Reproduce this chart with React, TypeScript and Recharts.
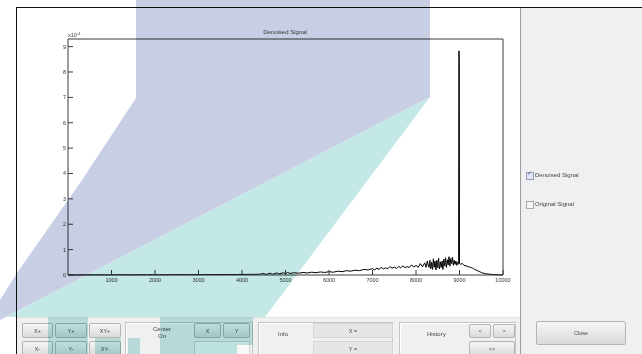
import { LineChart, Line, XAxis, YAxis } from "recharts";

// ─── Data (signal amplitude in units of 1e-4) ────────────────────────────────

const SIGNAL_X = [
  0, 300, 600, 900, 1200, 1500, 1800, 2100, 2400, 2700, 3000, 3300, 3600, 3900,
  4200, 4400, 4500, 4550, 4650, 4700, 4800, 4850, 4950, 5000, 5050, 5100, 5200,
  5300, 5400, 5500, 5600, 5700, 5800, 5900, 6000, 6100, 6200, 6300, 6400, 6500,
  6600, 6700, 6800, 6900, 7000, 7050, 7100, 7150, 7200, 7250, 7300, 7350, 7400,
  7450, 7500, 7550, 7600, 7650, 7700, 7750, 7800, 7850, 7900, 7950, 8000, 8050,
  8100, 8150, 8200, 8230, 8260, 8290,
  8300, 8310, 8320, 8330, 8340, 8350, 8360, 8370, 8380, 8390, 8400, 8410, 8420,
  8430, 8440, 8450, 8460, 8470, 8480, 8490, 8500, 8510, 8520, 8530, 8540, 8550,
  8560, 8570, 8580, 8590, 8600, 8610, 8620, 8630, 8640, 8650, 8660, 8670, 8680,
  8690, 8700, 8710, 8720, 8730, 8740, 8750, 8760, 8770, 8780, 8790, 8800, 8810,
  8820, 8830, 8840, 8850, 8860, 8870, 8880, 8890, 8900, 8910, 8920, 8930, 8940,
  8950, 8960, 8970, 8980,
  8986, 8990, 8994, 9000, 9030, 9060, 9100, 9150, 9200, 9250, 9300, 9350,
  9400, 9450, 9500, 9550, 9600, 9700, 9800, 9900, 10000,
];

const SIGNAL_Y = [
  0, 0.005, 0.01, 0.005, 0.01, 0.008, 0.012, 0.01, 0.015, 0.012, 0.015, 0.018,
  0.02, 0.02, 0.025, 0.03, 0.06, 0.02, 0.07, 0.03, 0.08, 0.04, 0.09, 0.05, 0.1,
  0.06, 0.09, 0.07, 0.1, 0.08, 0.11, 0.09, 0.12, 0.1, 0.13, 0.11, 0.15, 0.13,
  0.17, 0.15, 0.19, 0.17, 0.22, 0.2, 0.25, 0.2, 0.27, 0.22, 0.3, 0.24, 0.28,
  0.25, 0.33, 0.27, 0.31, 0.26, 0.34, 0.28, 0.36, 0.29, 0.33, 0.3, 0.4, 0.31,
  0.38, 0.3, 0.45, 0.32, 0.48, 0.3, 0.55, 0.33,
  0.3, 0.45, 0.58, 0.35, 0.25, 0.4, 0.5, 0.3, 0.22, 0.45, 0.64, 0.42, 0.3,
  0.48, 0.55, 0.3, 0.2, 0.42, 0.58, 0.36, 0.28, 0.5, 0.66, 0.4, 0.24, 0.38,
  0.52, 0.4, 0.3, 0.45, 0.55, 0.35, 0.22, 0.5, 0.63, 0.45, 0.35, 0.55, 0.68,
  0.42, 0.3, 0.48, 0.6, 0.45, 0.4, 0.62, 0.72, 0.5, 0.35, 0.5, 0.65, 0.52,
  0.45, 0.6, 0.7, 0.5, 0.38, 0.48, 0.58, 0.45, 0.42, 0.52, 0.55, 0.42, 0.38,
  0.5, 0.48, 0.42, 0.45,
  8.83, 8.83, 8.6, 0.45, 0.42, 0.46, 0.38, 0.36, 0.33, 0.3, 0.27, 0.22,
  0.18, 0.14, 0.1, 0.07, 0.05, 0.03, 0.015, 0.008, 0.005,
];

const X_TICKS = [1000, 2000, 3000, 4000, 5000, 6000, 7000, 8000, 9000, 10000];
const Y_TICKS = [0, 1, 2, 3, 4, 5, 6, 7, 8, 9];

const data = SIGNAL_X.map((x, i) => ({ x, y: SIGNAL_Y[i] }));

// ─── Styles ──────────────────────────────────────────────────────────────────

const FONT = "'Liberation Sans', Arial, sans-serif";
const AXIS_COLOR = "#3a3a3a";
const TICK_STYLE = { fontSize: 5.5, fill: "#333", fontFamily: FONT };

const btn: React.CSSProperties = {
  position: "absolute",
  background: "linear-gradient(#f6f6f6, #dadada)",
  border: "1px solid #b4b4b4",
  borderRadius: 2,
  boxSizing: "border-box",
  display: "flex",
  alignItems: "center",
  justifyContent: "center",
  fontSize: 5.5,
  color: "#444",
  fontFamily: FONT,
};

const group: React.CSSProperties = {
  position: "absolute",
  border: "1px solid #c4c4c4",
  boxShadow: "inset 1px 1px 0 #fff",
  boxSizing: "border-box",
  background: "#f0f0f0",
};

const label: React.CSSProperties = {
  position: "absolute",
  fontSize: 6,
  color: "#444",
  fontFamily: FONT,
  whiteSpace: "nowrap",
  lineHeight: "7px",
};

function Btn({ x, y, w, h, text }: { x: number; y: number; w: number; h: number; text: string }) {
  return <div style={{ ...btn, left: x, top: y, width: w, height: h }}>{text}</div>;
}

const noTick = () => <g />;

// ─── Component ───────────────────────────────────────────────────────────────

export default function App() {
  return (
    <div
      style={{
        position: "fixed",
        left: 0,
        top: 0,
        width: 642,
        height: 354,
        background: "#fff",
        overflow: "hidden",
      }}
    >
      {/* plot */}
      <div style={{ position: "absolute", left: 0, top: 0 }}>
        <LineChart width={520} height={317} data={data} margin={{ top: 29, right: 7, bottom: 22, left: 48 }}>
          <XAxis
            xAxisId="b"
            dataKey="x"
            type="number"
            domain={[0, 10000]}
            ticks={X_TICKS}
            height={20}
            stroke={AXIS_COLOR}
            tickSize={-5}
            tickMargin={8}
            tick={TICK_STYLE}
          />
          <XAxis
            xAxisId="t"
            orientation="top"
            type="number"
            domain={[0, 10000]}
            ticks={X_TICKS}
            height={10}
            stroke={AXIS_COLOR}
            tickSize={-5}
            tick={noTick}
          />
          <YAxis
            yAxisId="l"
            type="number"
            domain={[0, 9.3]}
            ticks={Y_TICKS}
            width={20}
            stroke={AXIS_COLOR}
            tickSize={-5}
            tickMargin={7}
            tick={TICK_STYLE}
          />
          <YAxis
            yAxisId="r"
            orientation="right"
            type="number"
            domain={[0, 9.3]}
            ticks={Y_TICKS}
            width={10}
            stroke={AXIS_COLOR}
            tickSize={-5}
            tick={noTick}
          />
          <Line
            xAxisId="b"
            yAxisId="l"
            dataKey="y"
            type="linear"
            stroke="#000"
            strokeWidth={1}
            dot={false}
            isAnimationActive={false}
          />
        </LineChart>
      </div>

      {/* title + exponent */}
      <div style={{ ...label, left: 255, top: 29, width: 60, textAlign: "center" }}>Denoised Signal</div>
      <div style={{ ...label, left: 68, top: 30, fontSize: 5.5 }}>
        x10<sup style={{ fontSize: 4, verticalAlign: "2px" }}>-4</sup>
      </div>

      {/* right panel */}
      <div
        style={{
          position: "absolute",
          left: 520,
          top: 7,
          width: 122,
          height: 347,
          background: "#f0f0f0",
          borderLeft: "1px solid #9c9c9c",
        }}
      />
      <div style={{ position: "absolute", left: 526, top: 172, width: 6, height: 6, border: "1px solid #9aa0b8", background: "#dfe3f2" }} />
      <div style={{ ...label, left: 527, top: 170, fontSize: 6, color: "#4455aa" }}>✓</div>
      <div style={{ ...label, left: 535, top: 172 }}>Denoised Signal</div>
      <div style={{ position: "absolute", left: 526, top: 201, width: 6, height: 6, border: "1px solid #a8a8a8", background: "#f6f6f6" }} />
      <div style={{ ...label, left: 535, top: 201 }}>Original Signal</div>
      <Btn x={536} y={321} w={90} h={24} text="Close" />

      {/* bottom panel */}
      <div
        style={{
          position: "absolute",
          left: 17,
          top: 317,
          width: 503,
          height: 37,
          background: "#f0f0f0",
          borderTop: "1px solid #e2e2e2",
        }}
      />
      <Btn x={22} y={323} w={31} h={15} text="X+" />
      <Btn x={55} y={323} w={32} h={15} text="Y+" />
      <Btn x={89} y={323} w={32} h={15} text="XY+" />
      <Btn x={22} y={341} w={31} h={15} text="X-" />
      <Btn x={55} y={341} w={32} h={15} text="Y-" />
      <Btn x={89} y={341} w={32} h={15} text="XY-" />

      <div style={{ ...group, left: 125, top: 322, width: 128, height: 40 }} />
      <div style={{ ...label, left: 145, top: 326, width: 34, textAlign: "center" }}>
        Center
        <br />
        On
      </div>
      <Btn x={194} y={323} w={27} h={15} text="X" />
      <Btn x={223} y={323} w={27} h={15} text="Y" />
      <div style={{ position: "absolute", left: 194, top: 341, width: 56, height: 15, background: "#f8f8f8", border: "1px solid #d0d0d0", boxSizing: "border-box" }} />

      <div style={{ ...group, left: 258, top: 322, width: 135, height: 40 }} />
      <div style={{ ...label, left: 278, top: 331 }}>Info</div>
      <div style={{ ...btn, background: "#e6e6e6", borderRadius: 0, border: "1px solid #d6d6d6", left: 313, top: 323, width: 80, height: 15 }}>X =</div>
      <div style={{ ...btn, background: "#e6e6e6", borderRadius: 0, border: "1px solid #d6d6d6", left: 313, top: 341, width: 80, height: 15 }}>Y =</div>

      <div style={{ ...group, left: 399, top: 322, width: 117, height: 40 }} />
      <div style={{ ...label, left: 427, top: 331 }}>History</div>
      <Btn x={469} y={324} w={22} h={14} text="<" />
      <Btn x={493} y={324} w={22} h={14} text=">" />
      <Btn x={469} y={341} w={46} h={15} text="<<" />

      {/* frame */}
      <div style={{ position: "absolute", left: 16, top: 7, width: 626, height: 1, background: "#111" }} />
      <div style={{ position: "absolute", left: 16, top: 7, width: 1, height: 347, background: "#111" }} />

      {/* watermark */}
      <svg
        width={642}
        height={354}
        style={{ position: "absolute", left: 0, top: 0, mixBlendMode: "multiply", pointerEvents: "none" }}
      >
        <polygon points="136,0 430,0 430,97 0,320 0,300 17,273 82,180 136,98" fill="#c8cfe4" />
        <polygon points="430,97 265,317 6,317" fill="#c3e8e6" />
        <rect x={48} y={317} width={40} height={37} fill="#c3e8e6" />
        <rect x={95} y={338} width={26} height={16} fill="#c3e8e6" />
        <rect x={128} y={338} width={12} height={16} fill="#c3e8e6" />
        <rect x={160} y={317} width={93} height={28} fill="#c3e8e6" />
        <rect x={160} y={345} width={77} height={9} fill="#c3e8e6" />
      </svg>
    </div>
  );
}
